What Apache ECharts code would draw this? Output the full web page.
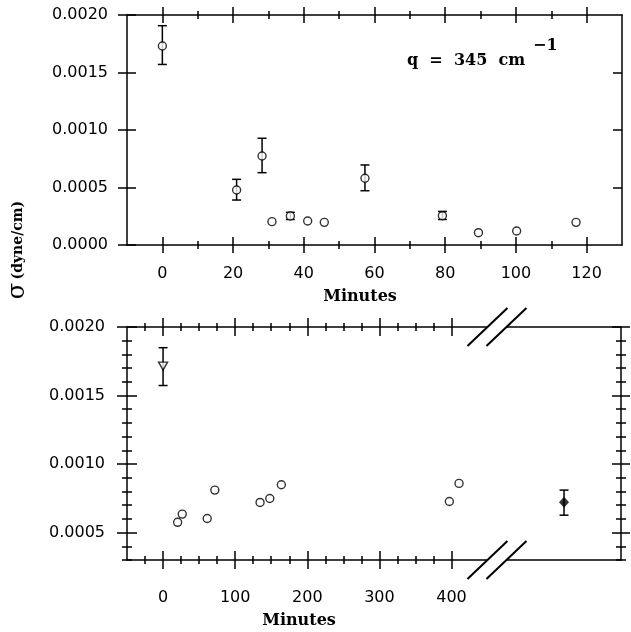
<!DOCTYPE html>
<html>
<head>
<meta charset="utf-8">
<script src="https://cdn.jsdelivr.net/npm/echarts@6/dist/echarts.min.js"></script>
<style>
  html, body { margin: 0; padding: 0; background: #fff; }
  #chart { width: 631px; height: 632px; }
</style>
</head>
<body>
<div id="chart"></div>
<script>
// ---- upper panel (q = 345 cm^-1), minutes 0..120 ----
const topMinutes = [0, 21, 28.2, 31, 36.2, 41.1, 45.8, 57.3, 79.2, 89.4, 100.2, 117];
const topSigma = [0.00173, 0.000478, 0.000774, 0.000203, 0.000252, 0.000209, 0.000197, 0.00058, 0.000255, 0.000107, 0.000122, 0.000197];
const topErrMinutes = [0, 21, 28.2, 36.2, 57.3, 79.2];
const topErrLow = [0.00157, 0.000391, 0.000629, 0.000222, 0.000472, 0.000222];
const topErrHigh = [0.001907, 0.000571, 0.000928, 0.000284, 0.000696, 0.000292];
const topXTicks = [0, 20, 40, 60, 80, 100, 120];
const topXMinor = [10, 30, 50, 70, 90, 110];
const topYTicks = [0, 0.0005, 0.001, 0.0015, 0.002];

// ---- lower panel, minutes 0..400 plus one point after the axis break ----
const botMinutes = [20.2, 26.6, 61.2, 71.8, 134.5, 148, 164, 397, 410.4];
const botSigma = [0.000575, 0.000635, 0.000603, 0.00081, 0.00072, 0.000749, 0.000849, 0.000727, 0.000859];
const firstMinutes = [0];
const firstSigma = [0.001715];
const lateMinutes = [556];      // position past the break
const lateSigma = [0.000722];
const botErrMinutes = [0, 556];
const botErrLow = [0.001573, 0.000627];
const botErrHigh = [0.001849, 0.00081];
const botXTicks = [0, 100, 200, 300, 400];
const botXMinor = [-25, 25, 50, 75, 125, 150, 175, 225, 250, 275, 325, 350, 375];
const botYTicks = [0.0005, 0.001, 0.0015, 0.002];
const botYMinor = [0.0003, 0.0004, 0.0006, 0.0007, 0.0008, 0.0009, 0.0011, 0.0012, 0.0013, 0.0014, 0.0016, 0.0017, 0.0018, 0.0019];
const BREAK_AT = 463;

const SANS = 'DejaVu Sans';
const SERIF = 'DejaVu Serif';

function lineAxis(gridIndex, position, min, max, labels, margin, fmt) {
  return {
    type: 'value', gridIndex, position, min, max,
    axisLine: { show: true, onZero: false, lineStyle: { color: '#000', width: 1.5 } },
    axisTick: { show: false },
    axisLabel: labels ? {
      show: true, customValues: labels, margin, formatter: fmt,
      color: '#000', fontFamily: SANS, fontSize: 16
    } : { show: false },
    splitLine: { show: false }
  };
}

// one tick-only axis; inside or outside the grid
function tickOnly(gridIndex, position, min, max, values, len, inside) {
  return {
    type: 'value', gridIndex, position, min, max,
    axisLine: { show: false, onZero: false },
    axisTick: {
      show: true, customValues: values, inside, length: len,
      lineStyle: { color: '#000', width: 1.5 }
    },
    axisLabel: { show: false },
    splitLine: { show: false }
  };
}

// ticks that straddle the axis line = an inside and an outside tick axis
function crossTicks(gridIndex, position, min, max, values, half) {
  return [
    tickOnly(gridIndex, position, min, max, values, half, true),
    tickOnly(gridIndex, position, min, max, values, half, false)
  ];
}

const fmtX = v => String(Math.round(v));
const fmtY = v => v.toFixed(4);

// label/line axes come first so series can use index 0 (upper) and 1 (lower)
const xAxes = [
  lineAxis(0, 'bottom', -10, 130, topXTicks, 21, fmtX),
  lineAxis(1, 'bottom', -50, 635, botXTicks, 30, fmtX),
  lineAxis(0, 'top', -10, 130),
  lineAxis(1, 'top', -50, 635),
  ...crossTicks(0, 'bottom', -10, 130, topXTicks, 8),
  ...crossTicks(0, 'bottom', -10, 130, topXMinor, 4),
  ...crossTicks(0, 'top', -10, 130, topXTicks, 8),
  ...crossTicks(0, 'top', -10, 130, topXMinor, 4),
  ...crossTicks(1, 'bottom', -50, 635, botXTicks, 9),
  ...crossTicks(1, 'bottom', -50, 635, botXMinor, 4),
  ...crossTicks(1, 'top', -50, 635, botXTicks, 9),
  ...crossTicks(1, 'top', -50, 635, botXMinor, 4)
];

const yAxes = [
  lineAxis(0, 'left', 0, 0.002, topYTicks, 19, fmtY),
  lineAxis(1, 'left', 0.0003, 0.002, botYTicks, 22, fmtY),
  lineAxis(0, 'right', 0, 0.002),
  lineAxis(1, 'right', 0.0003, 0.002),
  ...crossTicks(0, 'left', 0, 0.002, topYTicks, 9),
  tickOnly(0, 'right', 0, 0.002, [0.0005, 0.001, 0.0015], 9, true),
  ...crossTicks(1, 'left', 0.0003, 0.002, botYTicks, 10),
  ...crossTicks(1, 'left', 0.0003, 0.002, botYMinor, 5),
  ...crossTicks(1, 'right', 0.0003, 0.002, botYTicks, 9),
  ...crossTicks(1, 'right', 0.0003, 0.002, botYMinor, 5)
];

function zip(a, b, c) {
  return a.map((v, i) => c ? [v, b[i], c[i]] : [v, b[i]]);
}

function errorBar(params, api) {
  const top = api.coord([api.value(0), api.value(2)]);
  const bot = api.coord([api.value(0), api.value(1)]);
  const w = 4.5;
  const st = { stroke: '#000', lineWidth: 1.5 };
  return {
    type: 'group',
    children: [
      { type: 'line', shape: { x1: top[0], y1: top[1], x2: bot[0], y2: bot[1] }, style: st },
      { type: 'line', shape: { x1: top[0] - w, y1: top[1], x2: top[0] + w, y2: top[1] }, style: st },
      { type: 'line', shape: { x1: bot[0] - w, y1: bot[1], x2: bot[0] + w, y2: bot[1] }, style: st }
    ]
  };
}

const openMark = { color: '#fff', borderColor: '#000', borderWidth: 1.4 };

const chart = echarts.init(document.getElementById('chart'));
chart.setOption({
  animation: false,
  backgroundColor: '#fff',
  grid: [
    { left: 127, right: 9, top: 15, height: 230 },
    { left: 127, right: 10, top: 327, height: 233 }
  ],
  xAxis: xAxes,
  yAxis: yAxes,
  series: [
    {
      type: 'custom', xAxisIndex: 0, yAxisIndex: 0, silent: true, z: 1,
      encode: { x: 0, y: [1, 2] },
      data: zip(topErrMinutes, topErrLow, topErrHigh),
      renderItem: errorBar
    },
    {
      type: 'scatter', xAxisIndex: 0, yAxisIndex: 0, silent: true, z: 3,
      symbol: 'circle', symbolSize: 8, itemStyle: openMark,
      data: zip(topMinutes, topSigma)
    },
    {
      type: 'custom', xAxisIndex: 1, yAxisIndex: 1, silent: true, z: 1,
      encode: { x: 0, y: [1, 2] },
      data: zip(botErrMinutes, botErrLow, botErrHigh),
      renderItem: errorBar
    },
    {
      type: 'scatter', xAxisIndex: 1, yAxisIndex: 1, silent: true, z: 3,
      symbol: 'circle', symbolSize: 8, itemStyle: openMark,
      data: zip(botMinutes, botSigma)
    },
    {
      type: 'scatter', xAxisIndex: 1, yAxisIndex: 1, silent: true, z: 3,
      symbol: 'triangle', symbolRotate: 180, symbolSize: [9, 8], itemStyle: openMark,
      data: zip(firstMinutes, firstSigma)
    },
    {
      type: 'scatter', xAxisIndex: 1, yAxisIndex: 1, silent: true, z: 3,
      symbol: 'diamond', symbolSize: [10, 11],
      itemStyle: { color: '#000' },
      data: zip(lateMinutes, lateSigma)
    }
  ]
});

// axis break marks on the lower panel, placed from the axis scale
const upper = chart.convertToPixel({ gridIndex: 1 }, [BREAK_AT, 0.002]);
const lower = chart.convertToPixel({ gridIndex: 1 }, [BREAK_AT, 0.0003]);
const breakMarks = [];
[upper, lower].forEach(p => {
  breakMarks.push({
    type: 'rect', z: 100,
    shape: { x: p[0] - 9.5, y: p[1] - 2, width: 19, height: 4 },
    style: { fill: '#fff' }
  });
  [-9.5, 9.5].forEach(d => {
    breakMarks.push({
      type: 'line', z: 101,
      shape: { x1: p[0] + d - 20, y1: p[1] + 19, x2: p[0] + d + 20, y2: p[1] - 19 },
      style: { stroke: '#000', lineWidth: 2 }
    });
  });
});

const boldSerif = size => 'bold ' + size + 'px "' + SERIF + '"';

chart.setOption({
  graphic: breakMarks.concat([
    {
      type: 'text', z: 100, x: 360, y: 297,
      style: { text: 'Minutes', font: boldSerif(16), fill: '#000', align: 'center', verticalAlign: 'middle' }
    },
    {
      type: 'text', z: 100, x: 299, y: 621,
      style: { text: 'Minutes', font: boldSerif(16), fill: '#000', align: 'center', verticalAlign: 'middle' }
    },
    {
      type: 'text', z: 100, x: 407, y: 61,
      style: { text: 'q  =  345  cm', font: boldSerif(16), fill: '#000', align: 'left', verticalAlign: 'middle' }
    },
    {
      type: 'text', z: 100, x: 533, y: 46,
      style: { text: '\u22121', font: boldSerif(16), fill: '#000', align: 'left', verticalAlign: 'middle' }
    },
    {
      type: 'text', z: 100, x: 18, y: 250, rotation: Math.PI / 2,
      style: {
        text: '{s|\u03c3} {t|(dyne/cm)}',
        align: 'center', verticalAlign: 'middle',
        rich: {
          s: { font: '24px "' + SERIF + '"', fill: '#000' },
          t: { font: boldSerif(14), fill: '#000' }
        }
      }
    }
  ])
});
</script>
</body>
</html>
